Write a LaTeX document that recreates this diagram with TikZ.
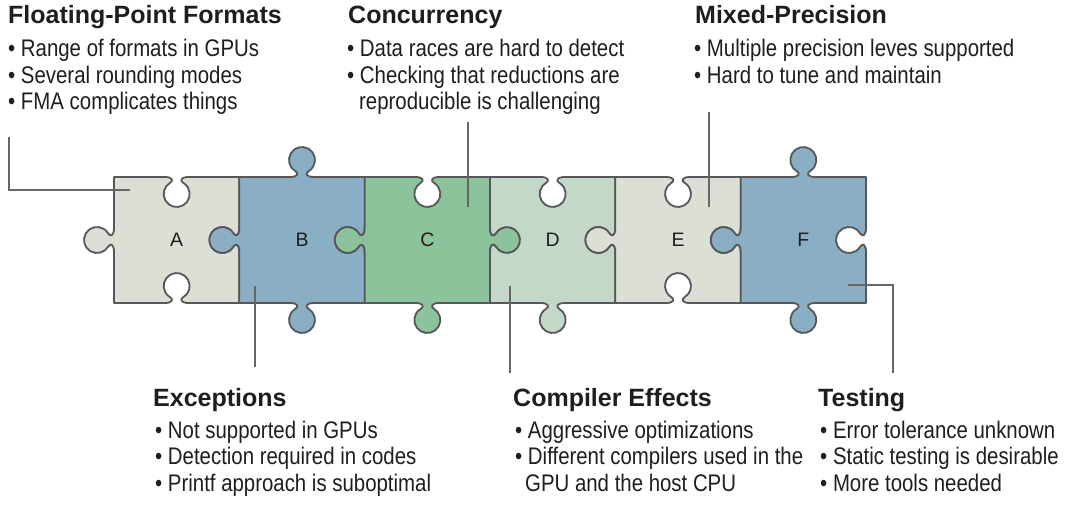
\documentclass[tikz,border=0pt]{standalone}
\usepackage{fontspec}
\setmainfont{Liberation Sans}
\newfontfamily\bodyfont{Liberation Sans}[FakeStretch=0.85]
\definecolor{pzgrey}{HTML}{DCDFD5}
\definecolor{pzblue}{HTML}{8AAFC4}
\definecolor{pzgreen}{HTML}{8CC39A}
\definecolor{pzmint}{HTML}{C4D8CA}
\definecolor{pzline}{HTML}{575757}
\definecolor{leadline}{HTML}{666666}
\definecolor{ink}{HTML}{1E1E1E}
% one edge of a puzzle piece: direction (dx,dy), its angle, knob sign (+1 out, -1 hole), length
\newcommand\pzedge[5]{%
  -- ++({(#5/2-12)*(#1)},{(#5/2-12)*(#2)})
  .. controls +({8*(#1)},{8*(#2)}) and +({3.46*(#1)-2*(#4)*(#2)},{3.46*(#2)+2*(#4)*(#1)})
  .. ++({5.5*(#1)+5.74*(#4)*(#2)},{5.5*(#2)-5.74*(#4)*(#1)})
  arc[start angle={120*(#4)+(#3)}, end angle={420*(#4)+(#3)}, radius=13]
  .. controls +({-3.46*(#1)-2*(#4)*(#2)},{-3.46*(#2)+2*(#4)*(#1)}) and +({-8*(#1)},{-8*(#2)})
  .. ++({5.5*(#1)-5.74*(#4)*(#2)},{5.5*(#2)+5.74*(#4)*(#1)})
  -- ++({(#5/2-12)*(#1)},{(#5/2-12)*(#2)})}
% piece: left x, fill, top, right, bottom, left knob signs
\newcommand\pzpiece[6]{%
  \path[piece, fill=#2] (#1,177)
    \pzedge{1}{0}{0}{#3}{125.33}
    \pzedge{0}{1}{90}{#4}{126}
    \pzedge{-1}{0}{180}{#5}{125.33}
    \pzedge{0}{-1}{270}{#6}{126} -- cycle;}
\begin{document}
\begin{tikzpicture}[x=1pt, y=1pt, yscale=-1,
  piece/.style={draw=pzline, line width=1.8pt, line join=round},
  letter/.style={font=\fontsize{19.5}{20}\selectfont, text=ink, inner sep=0pt},
  ttl/.style={font=\fontsize{25}{26}\selectfont\bfseries, text=ink, inner sep=0pt, anchor=base west},
  itm/.style={font=\bodyfont\fontsize{24}{26}\selectfont, text=ink, inner sep=0pt, anchor=base west},
  lead/.style={draw=leadline, line width=1.8pt}]
\useasboundingbox (0,0) rectangle (1087,507);

% the six pieces
\pzpiece{114}{pzgrey}{-1}{-1}{-1}{1}
\pzpiece{239.33}{pzblue}{1}{-1}{1}{1}
\pzpiece{364.67}{pzgreen}{-1}{1}{1}{1}
\pzpiece{490}{pzmint}{-1}{-1}{1}{-1}
\pzpiece{615.33}{pzgrey}{-1}{-1}{-1}{1}
\pzpiece{740.67}{pzblue}{1}{-1}{1}{1}

\node[letter] (A) at (176.7,240) {A};
\node[letter] (B) at (302,240) {B};
\node[letter] (C) at (427.3,240) {C};
\node[letter] (D) at (552.7,240) {D};
\node[letter] (E) at (678,240) {E};
\node[letter] (F) at (803.3,240) {F};

% top text blocks
\node[ttl] (fpT) at (8,23) {Floating-Point Formats};
\node[itm] (fp1) at (8,56.5) {• Range of formats in GPUs};
\node[itm] (fp2) at (8,83) {• Several rounding modes};
\node[itm] (fp3) at (8,109.5) {• FMA complicates things};

\node[ttl] (coT) at (348,23) {Concurrency};
\node[itm] (co1) at (347,56.5) {• Data races are hard to detect};
\node[itm] (co2) at (347,83) {• Checking that reductions are};
\node[itm] (co3) at (359,109.5) {reproducible is challenging};

\node[ttl] (mpT) at (695,23) {Mixed-Precision};
\node[itm] (mp1) at (694,56.5) {• Multiple precision leves supported};
\node[itm] (mp2) at (694,83) {• Hard to tune and maintain};

% bottom text blocks
\node[ttl] (exT) at (153,406) {Exceptions};
\node[itm] (ex1) at (155,438) {• Not supported in GPUs};
\node[itm] (ex2) at (155,464.5) {• Detection required in codes};
\node[itm] (ex3) at (155,491) {• Printf approach is suboptimal};

\node[ttl] (ceT) at (513,406) {Compiler Effects};
\node[itm] (ce1) at (515,438) {• Aggressive optimizations};
\node[itm] (ce2) at (515,464.5) {• Different compilers used in the};
\node[itm] (ce3) at (525,491) {GPU and the host CPU};

\node[ttl] (teT) at (818,406) {Testing};
\node[itm] (te1) at (820,438) {• Error tolerance unknown};
\node[itm] (te2) at (820,464.5) {• Static testing is desirable};
\node[itm] (te3) at (820,491) {• More tools needed};

% leader lines
\coordinate (fpS) at (9,137);   \coordinate (fpE) at (130,190);
\coordinate (coS) at (468,122); \coordinate (coE) at (468,207);
\coordinate (mpS) at (709,112); \coordinate (mpE) at (709,207);
\coordinate (exS) at (255,286); \coordinate (exE) at (255,367);
\coordinate (ceS) at (510,286); \coordinate (ceE) at (510,373);
\coordinate (teS) at (848,285); \coordinate (teE) at (893,373);
\draw[lead] (fpS) |- (fpE);
\draw[lead] (coS) -- (coE);
\draw[lead] (mpS) -- (mpE);
\draw[lead] (exS) -- (exE);
\draw[lead] (ceS) -- (ceE);
\draw[lead] (teS) -| (teE);
\end{tikzpicture}
\end{document}
